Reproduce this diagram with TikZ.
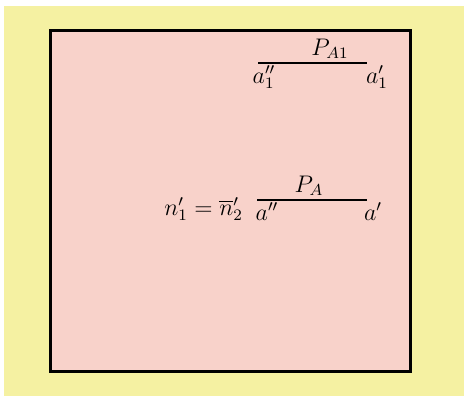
\documentclass[tikz,border=0pt]{standalone}
\usepackage{amsmath,amssymb}
\usepackage{xcolor}
\definecolor{paperyellow}{HTML}{F5F1A2}
\definecolor{boxpink}{HTML}{F8D2CA}
\usetikzlibrary{positioning}

\begin{document}
\begin{tikzpicture}[
            x=0.5pt, y=-0.5pt,
            % --- shape styles ---
            frame/.style={
                draw, line width=1.5pt, fill=boxpink
            },
            % --- line style ---
            seg/.style={line width=1.1pt},
            % --- label style ---
            lbl/.style={inner sep=1pt, font=\large}
        ]

        % ============================================================
        %  Page: pixel coordinates (464 x 396), y pointing down.
        % ============================================================
        \useasboundingbox (0,0) rectangle (464,396);
        \fill[white] (0,0) rectangle (464,396);
        \fill[paperyellow] (4,6) rectangle (464,396);

        % --- outer square ---
        \draw[frame] (50,30) rectangle (410,371);

        % ===== Upper segment =====
        \coordinate (upL) at (258,63);
        \coordinate (upR) at (367,63);
        \draw[seg] (upL) -- (upR);

        \node[lbl, above=1pt of upL, xshift=36pt] (pa1) {$P_{A1}$};
        \node[lbl, below=0pt of upL, xshift=3pt] (a1dd) {$a_1''$};
        \node[lbl, below=0pt of upR, xshift=5pt] (a1d) {$a_1'$};

        % ===== Lower segment =====
        \coordinate (loL) at (257,200);
        \coordinate (loR) at (367,200);
        \draw[seg] (loL) -- (loR);

        \node[lbl, above=1pt of loL, xshift=26pt] (pa) {$P_A$};
        \node[lbl, below=0pt of loL, xshift=5pt] (add) {$a''$};
        \node[lbl, below=0pt of loR, xshift=3pt] (ad) {$a'$};
        \node[lbl, left=4pt of add, yshift=1pt] (nn) {$n_1'=\overline{n}{}_2'$};

        \end{tikzpicture}
\end{document}
